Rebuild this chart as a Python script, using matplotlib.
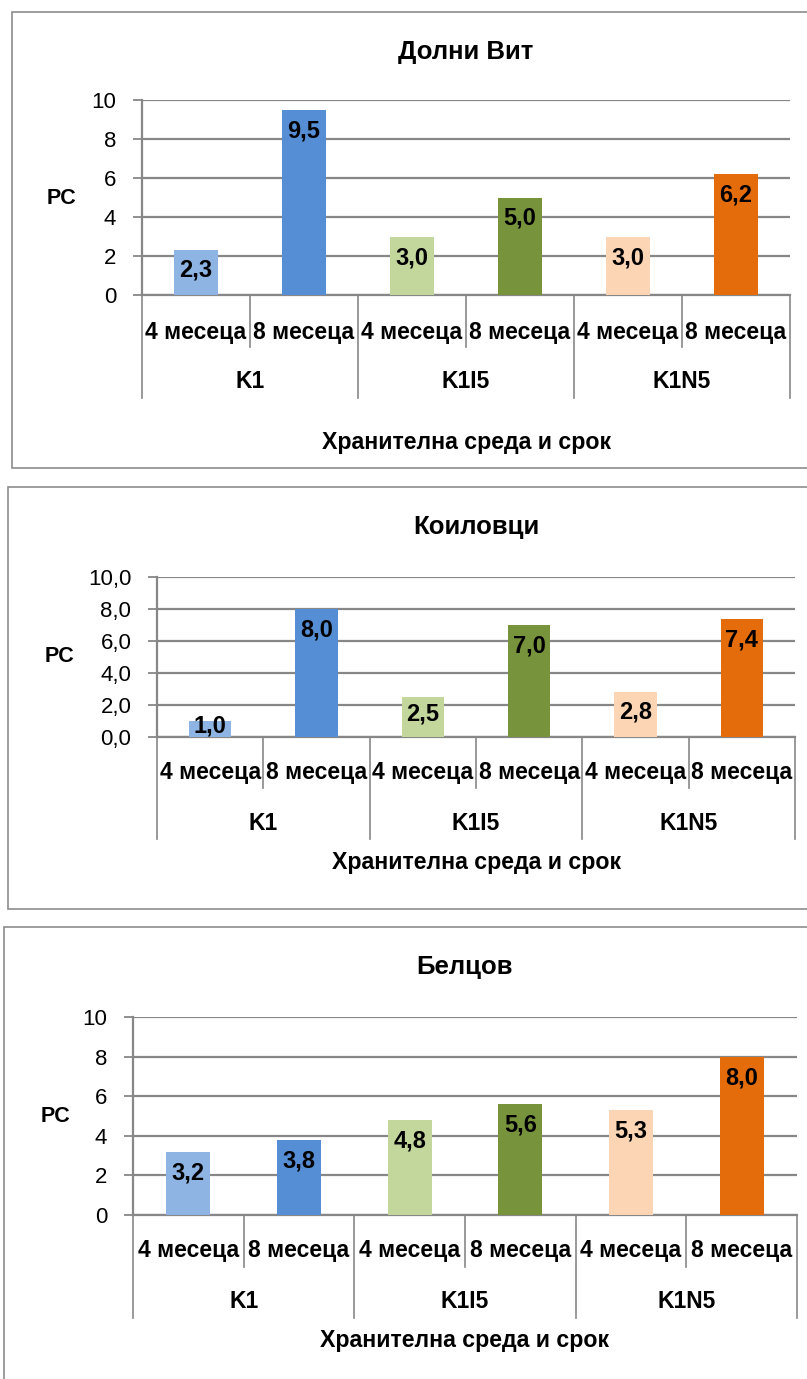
import matplotlib
matplotlib.use("Agg")
import matplotlib.pyplot as plt
from matplotlib.patches import Rectangle
from matplotlib.lines import Line2D
from matplotlib.transforms import blended_transform_factory

plt.rcParams["font.family"] = ["Liberation Sans", "DejaVu Sans"]

# ---- data -------------------------------------------------------------
groups = ["K1", "K1I5", "K1N5"]
periods = ["4 месеца", "8 месеца"]
bar_colors = ["#8EB4E3", "#558ED5", "#C3D69B", "#77933C", "#FCD5B5", "#E46C0A"]

titles = ["Долни Вит", "Коиловци", "Белцов"]
dolni_vit = [2.3, 9.5, 3.0, 5.0, 3.0, 6.2]
koilovtsi = [1.0, 8.0, 2.5, 7.0, 2.8, 7.4]
beltsov = [3.2, 3.8, 4.8, 5.6, 5.3, 8.0]
y_ticks = [0, 2, 4, 6, 8, 10]
y_label = "PC"
x_label = "Хранителна среда и срок"

# ---- layout (pixels) ---------------------------------------------------
W, H, DPI = 807, 1379, 100
GRID = "#878787"
TXT = "#000000"

panels = [
    dict(values=dolni_vit, title=titles[0], decimals=0,
         box=(12, 12, 815, 468), ax=(142, 790, 100, 295),
         title_y=52, tick_y=332, group_y=382, inner_end=347, group_end=398,
         xlab_y=442, pc=(62, 199)),
    dict(values=koilovtsi, title=titles[1], decimals=1,
         box=(8, 487, 815, 909), ax=(157, 795, 577, 737),
         title_y=527, tick_y=772, group_y=823, inner_end=788, group_end=839,
         xlab_y=862, pc=(59, 657)),
    dict(values=beltsov, title=titles[2], decimals=0,
         box=(4, 927, 815, 1395), ax=(133, 797, 1017, 1215),
         title_y=967, tick_y=1250, group_y=1302, inner_end=1267, group_end=1318,
         xlab_y=1341, pc=(55, 1117)),
]

fig = plt.figure(figsize=(W / DPI, H / DPI), dpi=DPI)
fig.patch.set_facecolor("white")


def fx(px):
    return px / W


def fy(py):
    return 1 - py / H


def fmt(v, decimals):
    return f"{v:.{decimals}f}".replace(".", ",")


for p in panels:
    bx0, by0, bx1, by1 = p["box"]
    fig.add_artist(Rectangle((fx(bx0), fy(by1)), fx(bx1 - bx0), (by1 - by0) / H,
                             transform=fig.transFigure, facecolor="white",
                             edgecolor="#8C8C8C", lw=1.2, zorder=0))

    left, right, top, bottom = p["ax"]
    ax = fig.add_axes([fx(left), fy(bottom), fx(right - left), (bottom - top) / H])
    ax_h_px = bottom - top

    n = len(p["values"])
    x = list(range(n))
    ax.bar(x, p["values"], width=0.4, color=bar_colors, zorder=3)
    ax.set_xlim(-0.5, n - 0.5)
    ax.set_ylim(0, 10)

    ax.set_yticks(y_ticks)
    ax.set_yticklabels([fmt(t, p["decimals"]) for t in y_ticks], fontsize=16)
    ax.tick_params(axis="y", length=6.5, width=1.3, color=GRID, pad=12)
    ax.set_xticks([])
    ax.yaxis.grid(True, color=GRID, lw=1.6, zorder=1)
    ax.set_axisbelow(True)
    for s in ["top", "right"]:
        ax.spines[s].set_visible(False)
    for s in ["left", "bottom"]:
        ax.spines[s].set_color(GRID)
        ax.spines[s].set_linewidth(1.6)

    # value labels just inside the bar ends
    for xi, v in zip(x, p["values"]):
        bar_px = v / 10 * ax_h_px
        off = -min(21, max(bar_px / 2 - 3, 0))
        ax.annotate(fmt(v, 1), (xi, v), xytext=(0, off), textcoords="offset pixels",
                    ha="center", va="center", fontsize=17, fontweight="bold",
                    color=TXT, zorder=4)

    # two-level category axis
    trans = blended_transform_factory(ax.transData, fig.transFigure)
    for xi in x:
        ax.text(xi, fy(p["tick_y"]), periods[xi % 2], transform=trans,
                ha="center", va="center", fontsize=16.5, fontweight="bold", color=TXT)
    for gi, g in enumerate(groups):
        ax.text(2 * gi + 0.5, fy(p["group_y"]), g, transform=trans,
                ha="center", va="center", fontsize=16.5, fontweight="bold", color=TXT)
    for b in range(n + 1):
        xb = b - 0.5
        end = p["group_end"] if b % 2 == 0 else p["inner_end"]
        ax.add_line(Line2D([xb, xb], [fy(bottom), fy(end)], transform=trans,
                           color=GRID, lw=1.2, clip_on=False))

    fig.text(fx((left + right) / 2), fy(p["title_y"]), p["title"], ha="center",
             va="center", fontsize=18.5, fontweight="bold", color=TXT)
    fig.text(fx((left + right) / 2), fy(p["xlab_y"]), x_label, ha="center",
             va="center", fontsize=16.7, fontweight="bold", color=TXT)
    fig.text(fx(p["pc"][0]), fy(p["pc"][1]), y_label, ha="center", va="center",
             fontsize=15.5, fontweight="bold", color=TXT)

fig.savefig("out.png", dpi=DPI, facecolor="white")
